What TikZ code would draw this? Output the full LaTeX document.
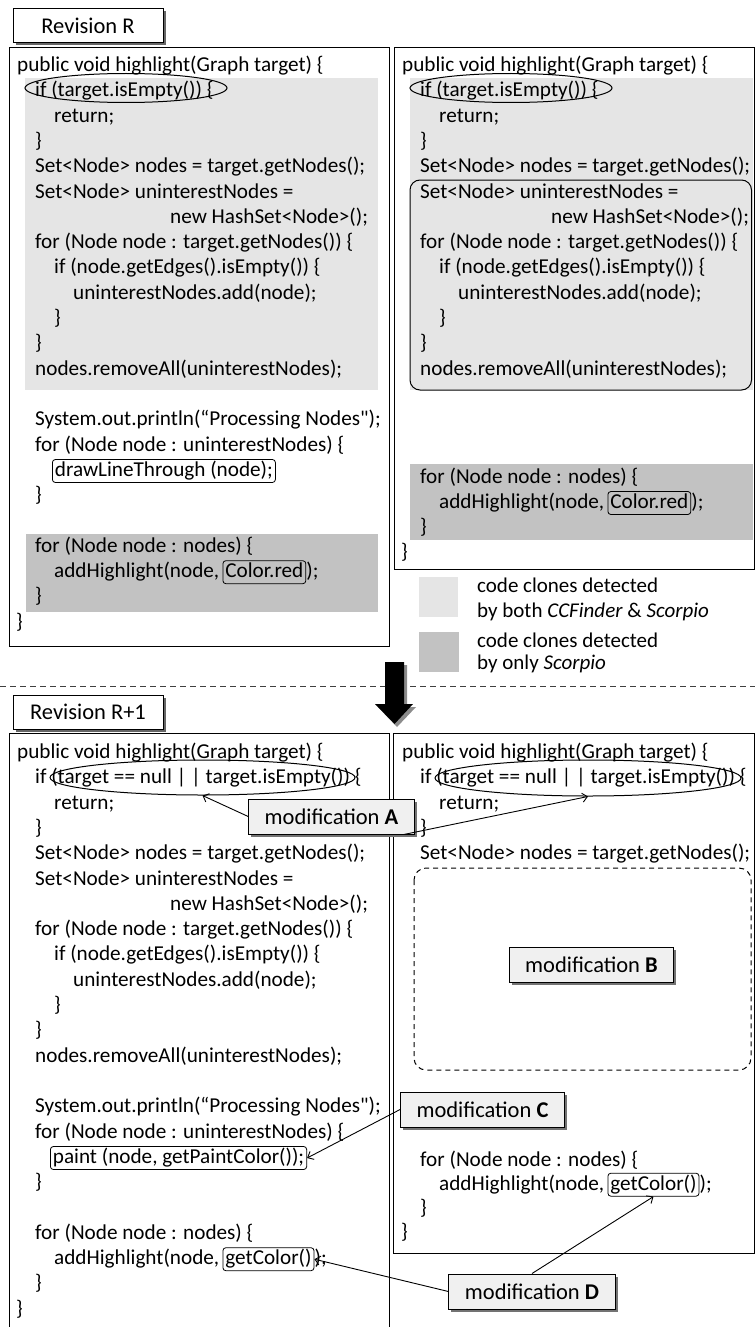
\documentclass[tikz,border=0pt]{standalone}
\usepackage{fontspec}
\setmainfont{Carlito}[Ligatures=TeXOff]
\usetikzlibrary{arrows.meta,shadows,shapes.geometric}
\definecolor{lightclone}{gray}{0.90}
\definecolor{darkclone}{gray}{0.76}
\definecolor{modfill}{gray}{0.94}
\begin{document}
\begin{tikzpicture}[x=1pt,y=-1pt,
  code/.style={font=\fontsize{21.2pt}{25pt}\selectfont, inner sep=0pt, anchor=base west},
  hl/.style={font=\fontsize{21.2pt}{25pt}\selectfont, draw, line width=0.8pt, rounded corners=3pt,
    inner xsep=2.5pt, inner ysep=1.5pt, text height=15.3pt, text depth=4.7pt, anchor=base west},
  legtext/.style={font=\fontsize{21pt}{25pt}\selectfont, inner sep=0pt, anchor=base west},
  revbox/.style={draw, line width=1pt, fill=white, minimum width=150pt, minimum height=34pt,
    font=\fontsize{22.5pt}{26pt}\selectfont, inner sep=0pt,
    drop shadow={shadow xshift=2.5pt, shadow yshift=-2.5pt, fill=black!60, opacity=1}},
  modbox/.style={draw, line width=1pt, fill=modfill, minimum height=35pt, inner xsep=16pt,
    font=\fontsize{22.5pt}{26pt}\selectfont,
    drop shadow={shadow xshift=2.5pt, shadow yshift=-2.5pt, fill=black!55, opacity=1}},
  ell/.style={draw, ellipse, line width=1pt, inner sep=0pt},
  panel/.style={draw, line width=1pt},
  conn/.style={draw, line width=0.9pt, -{Straight Barb[length=5pt,width=9pt]}}
]
\useasboundingbox (0,0) rectangle (755,1327);

% ---------- shading ----------
\fill[lightclone] (25,78) rectangle (378,390);
\fill[darkclone] (26,534) rectangle (378,612);
\fill[lightclone] (410,78) rectangle (753,390);
\fill[darkclone] (410,464) rectangle (753,540);

% ---------- panels ----------
\draw[panel] (9,48) rectangle (389,646);
\draw[panel] (394,48) rectangle (754.5,569);
\draw[panel] (9,1335) -- (9,733) -- (389,733) -- (389,1335);
\draw[panel] (393,733) rectangle (754.5,1253);

\draw[line width=1pt, rounded corners=10pt] (410,180) rectangle (751.5,390);
\draw[line width=1pt, dashed, dash pattern=on 5pt off 4pt, rounded corners=12pt] (414,868) rectangle (751,1070);

% ---------- headers ----------
\node[revbox] (revR) at (88,26) {Revision R};
\node[revbox] (revR1) at (88,712) {Revision R+1};

% ---------- top left code ----------
\node[code] (tl0) at (17,71.5) {public void highlight(Graph target) \{};
\node[code] (tl1) at (35,96.8) {if (target.isEmpty()) \{};
\node[code] (tl2) at (54,122.1) {return;};
\node[code] (tl3) at (35,147.4) {\}};
\node[code] (tl4) at (35,172.7) {Set<Node> nodes = target.getNodes();};
\node[code] (tl5) at (35,198.0) {Set<Node> uninterestNodes =};
\node[code] (tl6) at (170,223.3) {new HashSet<Node>();};
\node[code] (tl7) at (35,248.6) {for (Node node : target.getNodes()) \{};
\node[code] (tl8) at (54,273.9) {if (node.getEdges().isEmpty()) \{};
\node[code] (tl9) at (73,299.2) {uninterestNodes.add(node);};
\node[code] (tl10) at (54,324.5) {\}};
\node[code] (tl11) at (35,349.8) {\}};
\node[code] (tl12) at (35,375.1) {nodes.removeAll(uninterestNodes);};
\node[code] (tl14) at (35,425.7) {System.out.println(“Processing Nodes");};
\node[code] (tl15) at (35,451.0) {for (Node node : uninterestNodes) \{};
\node[hl] (dlt) at (52,476.3) {drawLineThrough (node);};
\node[code] (tl17) at (35,501.6) {\}};
\node[code] (tl19) at (35,552.2) {for (Node node : nodes) \{};
\node[code] (tl20) at (54,577.5) {addHighlight(node,};
\node[hl] (cr1) at ([xshift=3pt]tl20.base east) {Color.red};
\node[code] (tl20b) at (cr1.base east) {);};
\node[code] (tl21) at (35,602.8) {\}};
\node[code] (tl22) at (16,628.1) {\}};
\node[ell, minimum width=202pt, minimum height=29pt] (eTL) at (126,88) {};

% ---------- top right code ----------
\node[code] (tr0) at (402,71.5) {public void highlight(Graph target) \{};
\node[code] (tr1) at (420,96.8) {if (target.isEmpty()) \{};
\node[code] (tr2) at (439,122.1) {return;};
\node[code] (tr3) at (420,147.4) {\}};
\node[code] (tr4) at (420,172.7) {Set<Node> nodes = target.getNodes();};
\node[code] (tr5) at (420,198.0) {Set<Node> uninterestNodes =};
\node[code] (tr6) at (551,223.3) {new HashSet<Node>();};
\node[code] (tr7) at (420,248.6) {for (Node node : target.getNodes()) \{};
\node[code] (tr8) at (439,273.9) {if (node.getEdges().isEmpty()) \{};
\node[code] (tr9) at (458,299.2) {uninterestNodes.add(node);};
\node[code] (tr10) at (439,324.5) {\}};
\node[code] (tr11) at (420,349.8) {\}};
\node[code] (tr12) at (420,375.1) {nodes.removeAll(uninterestNodes);};
\node[code] (tr16) at (420,483) {for (Node node : nodes) \{};
\node[code] (tr17) at (439,508.3) {addHighlight(node,};
\node[hl] (cr2) at ([xshift=3pt]tr17.base east) {Color.red};
\node[code] (tr17b) at (cr2.base east) {);};
\node[code] (tr18) at (420,533.6) {\}};
\node[code] (tr19) at (401,558.9) {\}};
\node[ell, minimum width=202pt, minimum height=29pt] (eTR) at (511,88) {};

% ---------- legend ----------
\fill[lightclone] (419,577) rectangle (458,617);
\fill[darkclone] (419,632) rectangle (459,672);
\node[legtext] (lg1a) at (477,592.5) {code clones detected};
\node[legtext] (lg1b) at (477,617.5) {by both \textit{CCFinder} \& \textit{Scorpio}};
\node[legtext] (lg2a) at (477,647.5) {code clones detected};
\node[legtext] (lg2b) at (477,669.5) {by only \textit{Scorpio}};

% ---------- separator and big arrow ----------
\draw[line width=1pt, black!75, dash pattern=on 6pt off 4pt] (0,686) -- (755,686);
\fill[black!45] (388,665) -- (407,665) -- (407,707) -- (416,707) -- (397,727) -- (378,707) -- (388,707) -- cycle;
\fill[black] (385,662) -- (404,662) -- (404,704) -- (413,704) -- (394.5,724) -- (375,704) -- (385,704) -- cycle;

% ---------- bottom left code ----------
\node[code] (bl0) at (17,758.5) {public void highlight(Graph target) \{};
\node[code] (bl1) at (35,783.8) {if (target == null | | target.isEmpty()) \{};
\node[code] (bl2) at (54,809.1) {return;};
\node[code] (bl3) at (35,834.4) {\}};
\node[code] (bl4) at (35,859.7) {Set<Node> nodes = target.getNodes();};
\node[code] (bl5) at (35,885.0) {Set<Node> uninterestNodes =};
\node[code] (bl6) at (170,910.3) {new HashSet<Node>();};
\node[code] (bl7) at (35,935.6) {for (Node node : target.getNodes()) \{};
\node[code] (bl8) at (54,960.9) {if (node.getEdges().isEmpty()) \{};
\node[code] (bl9) at (73,986.2) {uninterestNodes.add(node);};
\node[code] (bl10) at (54,1011.5) {\}};
\node[code] (bl11) at (35,1036.8) {\}};
\node[code] (bl12) at (35,1062.1) {nodes.removeAll(uninterestNodes);};
\node[code] (bl14) at (35,1112.7) {System.out.println(“Processing Nodes");};
\node[code] (bl15) at (35,1138.0) {for (Node node : uninterestNodes) \{};
\node[hl] (paint) at (50,1163.3) {paint (node, getPaintColor());\hspace{7pt}};
\node[code] (bl17) at (35,1188.6) {\}};
\node[code] (bl19) at (35,1239.2) {for (Node node : nodes) \{};
\node[code] (bl20) at (54,1264.5) {addHighlight(node,};
\node[hl] (gcL) at ([xshift=3pt]bl20.base east) {getColor()};
\node[code] (bl20b) at (gcL.base east) {);};
\node[code] (bl21) at (35,1289.8) {\}};
\node[code] (bl22) at (16,1315.1) {\}};
\node[ell, minimum width=305pt, minimum height=35pt] (eBL) at (202.5,777.5) {};

% ---------- bottom right code ----------
\node[code] (br0) at (402,758.5) {public void highlight(Graph target) \{};
\node[code] (br1) at (420,783.8) {if (target == null | | target.isEmpty()) \{};
\node[code] (br2) at (439,809.1) {return;};
\node[code] (br3) at (420,834.4) {\}};
\node[code] (br4) at (420,859.7) {Set<Node> nodes = target.getNodes();};
\node[code] (br16) at (420,1166) {for (Node node : nodes) \{};
\node[code] (br17) at (439,1190) {addHighlight(node,};
\node[hl] (gcR) at ([xshift=3pt]br17.base east) {getColor()};
\node[code] (br17b) at (gcR.base east) {);};
\node[code] (br18) at (420,1214) {\}};
\node[code] (br19) at (401,1238) {\}};
\node[ell, minimum width=306pt, minimum height=36pt] (eBR) at (588,778) {};

% ---------- modification labels ----------
\node[modbox] (modA) at (331.5,816.5) {modification \textbf{A}};
\node[modbox] (modB) at (591.5,964.5) {modification \textbf{B}};
\node[modbox] (modC) at (482.5,1109.5) {modification \textbf{C}};
\node[modbox] (modD) at (532,1291.5) {modification \textbf{D}};

% ---------- connectors ----------
\draw[conn] (modA.west) -- (eBL.south);
\draw[conn] (modA.-14) -- (eBR.south);
\draw[conn] (modC.west) -- (paint.east);
\draw[conn] (modD.west) -- (gcL.east);
\draw[conn] (modD.north) -- (gcR.south);
\end{tikzpicture}
\end{document}
